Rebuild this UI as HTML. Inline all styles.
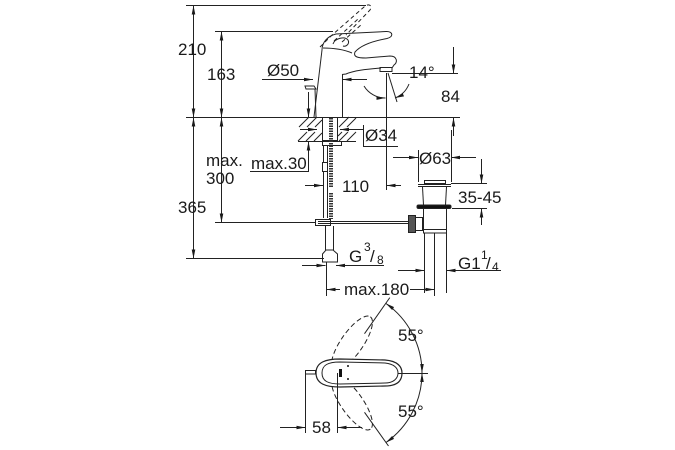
<!DOCTYPE html>
<html><head><meta charset="utf-8"><style>
html,body{margin:0;padding:0;background:#fff;}
svg{display:block;}
text{font-family:"Liberation Sans",Arial,sans-serif;fill:#1a1a1a;}
</style></head><body>
<svg width="675" height="450" viewBox="0 0 675 450" xmlns="http://www.w3.org/2000/svg">
<defs>
<marker id="ar" viewBox="0 0 10 4" refX="10" refY="2" markerWidth="9" markerHeight="3.6" orient="auto-start-reverse" markerUnits="userSpaceOnUse">
<path d="M0,0 L10,2 L0,4 z" fill="#1a1a1a"/>
</marker>
</defs>
<g stroke="#222" stroke-width="1" fill="none">
<!-- reference horizontal lines -->
<line x1="186" y1="5.5" x2="366" y2="5.5"/>
<line x1="215" y1="31.5" x2="333" y2="31.5"/>
<line x1="186" y1="117.5" x2="460" y2="117.5"/>
<line x1="215" y1="222.5" x2="318" y2="222.5"/>
<line x1="186" y1="258.5" x2="324" y2="258.5"/>

<!-- 210 / 365 -->
<line x1="193.5" y1="5.5" x2="193.5" y2="117.5" marker-start="url(#ar)" marker-end="url(#ar)"/>
<line x1="193.5" y1="117.5" x2="193.5" y2="258.5" marker-start="url(#ar)" marker-end="url(#ar)"/>
<!-- 163 / max 300 -->
<line x1="221.5" y1="31.5" x2="221.5" y2="117.5" marker-start="url(#ar)" marker-end="url(#ar)"/>
<line x1="221.5" y1="117.5" x2="221.5" y2="222.5" marker-start="url(#ar)" marker-end="url(#ar)"/>

<!-- dashed raised lever -->
<path d="M320,47 L331,36 L364,7 C368,3 373,5 370,10 L346,35" stroke-dasharray="4 3"/>
<path d="M334,41 L358,19" stroke-dasharray="4 3"/>
<path d="M342,42 L362,24" stroke-dasharray="4 3"/>

<!-- faucet solid -->
<path d="M322,50 C322,42 328,36 336,34 L386,31.5 C393,31 394,37 387,38.5 C373,41 361,45 355,52 C353,57 358,58 366,58 L390,56 C397,56 398,62 394,65 L392,68"/>
<path d="M381,68 C370,69 355,70 346,74 L342,74.5"/>
<path d="M323,48 C335,48 345,50 352,53"/>
<path d="M333,44 C335,38 345,36 348,40 C350,44 346,47 343,46"/>
<rect x="380" y="67.5" width="12" height="4"/>
<line x1="322" y1="50" x2="314" y2="117"/>
<line x1="342.5" y1="74" x2="342.5" y2="117"/>
<!-- pop-up knob -->
<path d="M305,86 L314,86 L316,89 L306,89 Z"/>
<line x1="315" y1="89" x2="316" y2="117"/>

<!-- Ø50 -->
<line x1="262" y1="79.5" x2="313" y2="79.5" marker-end="url(#ar)"/>
<line x1="367" y1="79.5" x2="342.5" y2="79.5" marker-end="url(#ar)"/>

<!-- 14° / 84 -->
<line x1="392" y1="73.5" x2="458" y2="73.5"/>
<line x1="386.5" y1="73" x2="386.5" y2="190"/>
<line x1="388" y1="73" x2="397" y2="102"/>
<path d="M364,86 A25,25 0 0 0 385.5,98" marker-end="url(#ar)"/>
<path d="M409,84 A25,25 0 0 1 395,98" marker-end="url(#ar)"/>
<line x1="453.5" y1="47" x2="453.5" y2="73.5" marker-end="url(#ar)"/>
<line x1="453.5" y1="136" x2="453.5" y2="117.5" marker-end="url(#ar)"/>

<!-- deck hatching -->
<line x1="298" y1="141.5" x2="322" y2="141.5"/>
<line x1="338" y1="141.5" x2="356" y2="141.5"/>
<path d="M299,127 L309,117 M307,127 L317,117 M315,127 L322,120 M298,141 L307,132 M306,141 L315,132 M314,141 L322,133"/>
<path d="M339,127 L349,117 M347,127 L356,118 M338,136 L342,132 M339,141 L348,132 M347,141 L356,132"/>
<!-- shank -->
<rect x="322.5" y="117.5" width="15" height="23"/>
<rect x="322.5" y="141.5" width="19" height="4"/>
<line x1="323.5" y1="146" x2="323.5" y2="218"/>
<line x1="327.5" y1="146" x2="327.5" y2="218"/>
<rect x="322.5" y="162.5" width="5" height="9" fill="#fff"/>
<line x1="331" y1="118" x2="331" y2="187" stroke="#333" stroke-width="4" stroke-dasharray="1.5 1"/>
<line x1="331" y1="193" x2="331" y2="219" stroke="#333" stroke-width="4" stroke-dasharray="1.5 1"/>
<!-- Ø34 -->
<line x1="300" y1="129.5" x2="317" y2="129.5" marker-end="url(#ar)"/>
<line x1="363" y1="129.5" x2="340" y2="129.5" marker-end="url(#ar)"/>
<line x1="363.5" y1="125" x2="363.5" y2="146"/>
<line x1="363" y1="146.5" x2="398" y2="146.5"/>
<!-- max.30 -->
<line x1="308.5" y1="92" x2="308.5" y2="117.5" marker-end="url(#ar)"/>
<line x1="308.5" y1="171" x2="308.5" y2="141.5" marker-end="url(#ar)"/>
<line x1="250" y1="171.5" x2="309" y2="171.5"/>
<!-- 110 -->
<line x1="305" y1="185.5" x2="323" y2="185.5" marker-end="url(#ar)"/>
<line x1="401" y1="185.5" x2="386.5" y2="185.5" marker-end="url(#ar)"/>

<!-- T connector + rod -->
<rect x="315.5" y="219.5" width="15" height="6" fill="#fff"/>
<line x1="318" y1="221.5" x2="410" y2="221.5"/>
<line x1="318" y1="223.5" x2="410" y2="223.5"/>
<line x1="325.5" y1="226" x2="325.5" y2="250"/>
<line x1="333.5" y1="226" x2="333.5" y2="250"/>
<path d="M322.5,262 L322.5,254 L326,250 L333,250 L337.5,254 L337.5,262 Z"/>
<line x1="326.5" y1="262" x2="326.5" y2="296"/>
<!-- G 3/8 -->
<line x1="302" y1="265.5" x2="325.5" y2="265.5" marker-end="url(#ar)"/>
<line x1="384" y1="265.5" x2="336" y2="265.5" marker-end="url(#ar)"/>

<!-- drain -->
<rect x="424.5" y="180.5" width="21" height="3"/>
<line x1="418" y1="184.5" x2="451" y2="184.5"/>
<line x1="418" y1="186.5" x2="451" y2="186.5"/>
<line x1="422.5" y1="187" x2="423.5" y2="205"/>
<line x1="446.5" y1="187" x2="445.5" y2="205"/>
<rect x="417" y="205" width="34" height="3.5" rx="1.5" fill="#111"/>
<line x1="423.5" y1="208" x2="423.5" y2="229"/>
<line x1="446.5" y1="208" x2="446.5" y2="229"/>
<rect x="423.5" y="229.5" width="23" height="3.5"/>
<line x1="424.5" y1="233" x2="424.5" y2="293"/>
<line x1="446.5" y1="233" x2="446.5" y2="293"/>
<line x1="434.5" y1="233" x2="434.5" y2="296"/>
<rect x="408.5" y="215.5" width="7" height="17" fill="#555"/>
<rect x="415.5" y="217.5" width="7" height="13" fill="#fff"/>
<!-- Ø63 -->
<line x1="393" y1="157.5" x2="418" y2="157.5" marker-end="url(#ar)"/>
<line x1="476" y1="157.5" x2="451" y2="157.5" marker-end="url(#ar)"/>
<line x1="418.5" y1="150" x2="418.5" y2="182"/>
<line x1="451.5" y1="130" x2="451.5" y2="182"/>
<!-- 35-45 -->
<line x1="451" y1="183.5" x2="487" y2="183.5"/>
<line x1="452" y1="208.5" x2="487" y2="208.5"/>
<line x1="481.5" y1="159" x2="481.5" y2="183.5" marker-end="url(#ar)"/>
<line x1="481.5" y1="225" x2="481.5" y2="208.5" marker-end="url(#ar)"/>
<!-- G1 1/4 -->
<line x1="398" y1="270.5" x2="424.5" y2="270.5" marker-end="url(#ar)"/>
<line x1="501" y1="270.5" x2="446.5" y2="270.5" marker-end="url(#ar)"/>
<!-- max.180 -->
<line x1="340" y1="289.5" x2="326.5" y2="289.5" marker-end="url(#ar)"/>
<line x1="410" y1="289.5" x2="434.5" y2="289.5" marker-end="url(#ar)"/>

<!-- bottom view -->
<ellipse cx="352" cy="343" rx="32" ry="11" transform="rotate(-55 352 343)" stroke-dasharray="5 3"/>
<ellipse cx="352" cy="403" rx="32" ry="11" transform="rotate(55 352 403)" stroke-dasharray="5 3"/>
<path d="M316,373 C316,362 326,359 340,359 L385,360 C398,361 402,367 402,373 C402,380 398,386 385,386 L340,387 C326,387 316,384 316,373 Z" fill="#fff" stroke-width="1.2"/>
<path d="M322,373 C322,365 328,362 340,362 L385,363 C394,364 398,368 398,373 C398,378 394,383 385,383 L340,384 C328,384 322,381 322,373 Z"/>
<rect x="305.5" y="370.5" width="10" height="3.5"/>
<line x1="398" y1="373.5" x2="428" y2="373.5"/>
<line x1="364.5" y1="333.7" x2="389.8" y2="297.6"/>
<line x1="364.5" y1="412.3" x2="388.5" y2="446"/>
<path d="M422,373 A85,85 0 0 0 385.8,303.4" marker-start="url(#ar)" marker-end="url(#ar)"/>
<path d="M422,373 A85,85 0 0 1 385.8,442.6" marker-start="url(#ar)" marker-end="url(#ar)"/>
<line x1="305.5" y1="374" x2="305.5" y2="433"/>
<line x1="337.5" y1="373" x2="337.5" y2="433"/>
<line x1="280" y1="427.5" x2="305.5" y2="427.5" marker-end="url(#ar)"/>
<line x1="362" y1="427.5" x2="337.5" y2="427.5" marker-end="url(#ar)"/>
</g>
<rect x="339" y="369" width="3" height="8" fill="#111"/>
<circle cx="348" cy="366" r="1" fill="#111"/>
<circle cx="348" cy="379" r="1" fill="#111"/>

<g font-size="17">
<text x="178" y="55">210</text>
<text x="207" y="80">163</text>
<text x="206" y="166">max.</text>
<text x="206" y="184">300</text>
<text x="178" y="213">365</text>
<text x="267" y="76">Ø50</text>
<text x="409" y="78">14°</text>
<text x="441" y="102">84</text>
<text x="251" y="169">max.30</text>
<text x="365" y="141">Ø34</text>
<text x="419" y="164">Ø63</text>
<text x="342" y="192">110</text>
<text x="458" y="203">35-45</text>
<text x="349" y="262">G</text>
<text x="364" y="251" font-size="12">3</text>
<text x="370" y="262">/</text>
<text x="377" y="264" font-size="12">8</text>
<text x="458" y="269">G1</text>
<text x="481" y="259" font-size="12">1</text>
<text x="486" y="269">/</text>
<text x="492" y="271" font-size="12">4</text>
<text x="344" y="295">max.180</text>
<text x="398" y="341">55°</text>
<text x="398" y="417">55°</text>
<text x="312" y="433">58</text>
</g>
</svg>
</body></html>
